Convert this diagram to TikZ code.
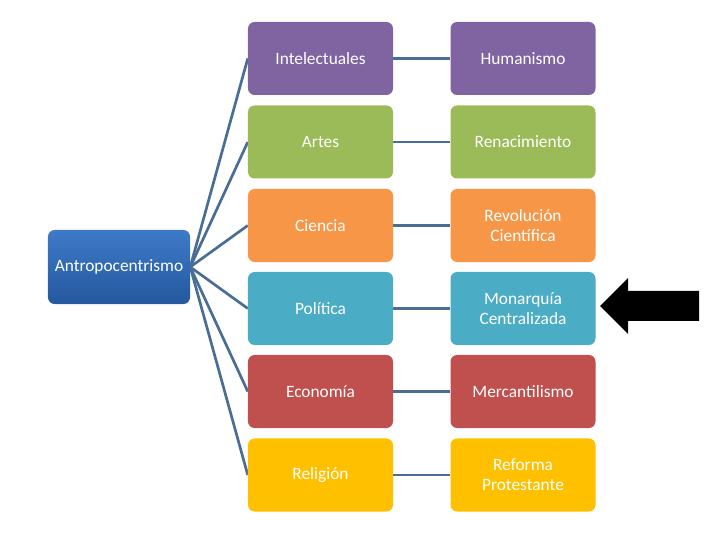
\documentclass[tikz,border=0pt]{standalone}
\usepackage{fontspec}
\setmainfont{Carlito}
\usetikzlibrary{backgrounds}
\definecolor{lnblue}{RGB}{74,109,150}
\definecolor{clpurple}{RGB}{128,100,162}
\definecolor{clgreen}{RGB}{155,187,89}
\definecolor{clorange}{RGB}{247,150,70}
\definecolor{clteal}{RGB}{75,172,198}
\definecolor{clred}{RGB}{192,80,77}
\definecolor{clgold}{RGB}{255,192,0}
\definecolor{roottop}{RGB}{62,122,200}
\definecolor{rootbot}{RGB}{36,88,158}
\newcommand{\boxw}{4.35cm}
\newcommand{\boxh}{2.19cm}
\newcommand{\colxa}{320.5}
\newcommand{\colxb}{523}

\begin{document}
\begin{tikzpicture}[x=0.03cm,y=-0.03cm,
    font=\fontsize{14.8}{17}\selectfont,
    cell/.style={rounded corners=0.2cm,minimum width=\boxw,
      minimum height=\boxh,align=center,text=white,inner sep=0pt},
    link/.style={draw=lnblue,line width=2.3pt}]
    \useasboundingbox (0,0) rectangle (720,540);

    \node (root) at (119,267) [cell,minimum width=4.26cm,minimum height=2.22cm,
      top color=roottop,bottom color=rootbot] {Antropocentrismo};

    \node (intel) at (\colxa,58.5) [cell,fill=clpurple] {Intelectuales};
    \node (artes) at (\colxa,142) [cell,fill=clgreen] {Artes};
    \node (cien) at (\colxa,225.5) [cell,fill=clorange] {Ciencia};
    \node (poli) at (\colxa,308.5) [cell,fill=clteal] {Política};
    \node (econ) at (\colxa,391.5) [cell,fill=clred] {Economía};
    \node (reli) at (\colxa,475) [cell,fill=clgold] {Religión};

    \node (huma) at (\colxb,58.5) [cell,fill=clpurple] {Humanismo};
    \node (rena) at (\colxb,142) [cell,fill=clgreen] {Renacimiento};
    \node (revo) at (\colxb,225.5) [cell,fill=clorange] {Revolución\\Científica};
    \node (mona) at (\colxb,308.5) [cell,fill=clteal] {Monarquía\\Centralizada};
    \node (merc) at (\colxb,391.5) [cell,fill=clred] {Mercantilismo};
    \node (refo) at (\colxb,475) [cell,fill=clgold] {Reforma\\Protestante};

    \begin{scope}[on background layer]
      \draw[link] (root.east) -- (intel.west);
      \draw[link] (root.east) -- (artes.west);
      \draw[link] (root.east) -- (cien.west);
      \draw[link] (root.east) -- (poli.west);
      \draw[link] (root.east) -- (econ.west);
      \draw[link] (root.east) -- (reli.west);

      \draw[link] (intel.east) -- (huma.west);
      \draw[link] (artes.east) -- (rena.west);
      \draw[link] (cien.east) -- (revo.west);
      \draw[link] (poli.east) -- (mona.west);
      \draw[link] (econ.east) -- (merc.west);
      \draw[link] (reli.east) -- (refo.west);
    \end{scope}

    % flecha
    \fill[black] (600,306) -- (628,278) -- (628,291) -- (699,291)
      -- (699,321) -- (628,321) -- (628,334) -- cycle;
  \end{tikzpicture}
\end{document}
